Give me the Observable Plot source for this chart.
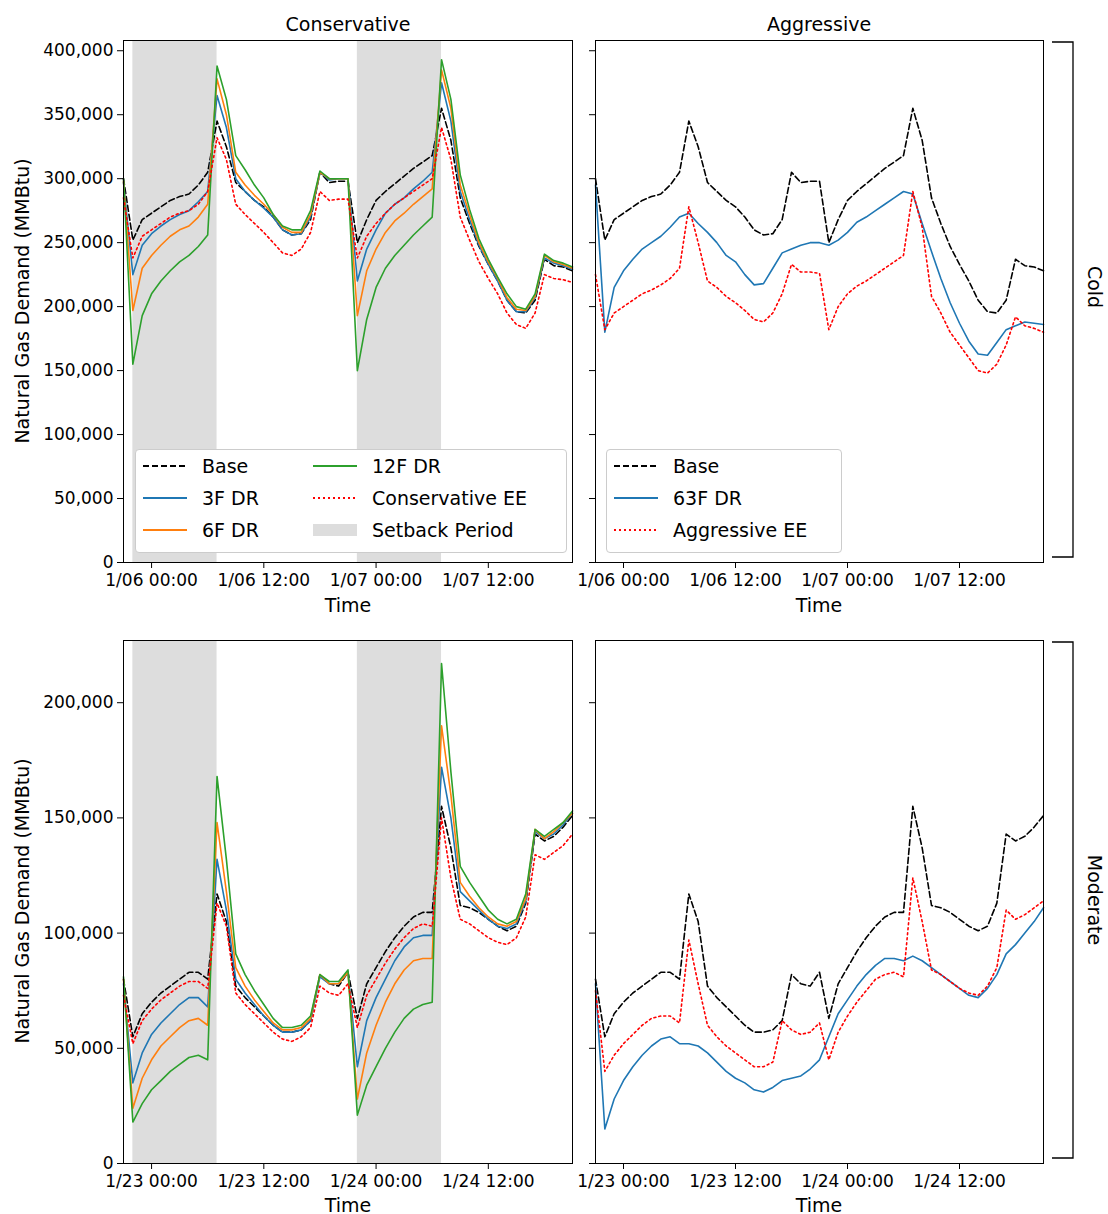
<!DOCTYPE html>
<html><head><meta charset="utf-8">
<script src="https://cdn.jsdelivr.net/npm/d3@7"></script>
<script src="https://cdn.jsdelivr.net/npm/@observablehq/plot@0.6"></script>
<style>
body{margin:0;background:#fff;font-family:"DejaVu Sans",sans-serif;}
#wrap{position:relative;width:1108px;height:1214px;}
.abs{position:absolute;}
.t{position:absolute;font-size:19px;color:#000;white-space:nowrap;}
.leg{position:absolute;background:#fff;border:1px solid #ccc;border-radius:4px;font-size:19px;}
.leg .row{position:absolute;display:flex;align-items:center;gap:14px;}
</style></head><body><div id="wrap"></div>
<script>
// ---------- data (thousand MMBtu), hourly from 21:00 on day before ----------
const coldStart = Date.UTC(2024,0,5,21);
const modStart = Date.UTC(2024,0,22,21);
const coldShade = [[Date.UTC(2024,0,5,22),Date.UTC(2024,0,6,7)],[Date.UTC(2024,0,6,22),Date.UTC(2024,0,7,7)]];
const modShade = [[Date.UTC(2024,0,22,22),Date.UTC(2024,0,23,7)],[Date.UTC(2024,0,23,22),Date.UTC(2024,0,24,7)]];

const coldBase = [300,252,268,273,278,283,286,288,295,305,345,325,297,290,283,278,270,260,256,257,268,305,297,298,298,250,268,283,290,296,302,308,313,318,355,330,285,265,247,233,220,205,196,195,205,237,232,231,228];
const cold3F = [297,225,248,257,263,268,272,275,282,290,365,340,300,290,283,277,270,260,256,257,270,305,299,300,300,220,245,260,273,280,285,292,298,305,375,345,290,268,248,233,220,205,196,196,207,238,234,232,229];
const cold6F = [298,197,230,240,248,255,260,263,270,280,378,350,305,295,287,280,272,262,258,258,272,305,300,300,300,193,228,245,258,267,273,280,286,292,385,355,295,272,250,235,222,207,198,197,208,240,235,233,230];
const cold12F = [300,155,193,210,220,228,235,240,247,256,388,362,318,307,295,285,272,263,260,260,275,306,300,300,300,150,190,215,230,240,248,256,263,270,393,362,303,276,253,237,223,210,200,198,210,241,236,234,231];
const coldConsEE = [285,238,255,260,265,270,273,275,280,290,332,315,280,272,265,258,250,242,240,245,258,290,283,284,284,238,255,265,273,280,285,290,295,300,340,315,270,252,235,222,210,195,186,183,195,225,222,221,219];
const cold63F = [295,180,215,228,237,245,250,255,262,270,273,265,258,250,240,235,225,217,218,230,242,245,248,250,250,248,252,258,266,270,275,280,285,290,288,265,243,222,203,187,173,163,162,172,182,185,188,187,186];
const coldAggEE = [225,182,195,200,205,210,213,217,222,230,278,250,220,215,208,203,197,190,188,195,210,233,227,227,226,182,200,210,216,220,225,230,235,240,290,262,208,195,180,170,160,150,148,155,170,192,185,183,180];

const modBase = [80,55,65,70,74,77,80,83,83,80,117,105,77,72,68,64,60,57,57,58,62,82,78,77,83,63,78,85,92,98,103,107,109,109,155,137,112,111,109,106,103,101,103,113,143,140,142,146,151];
const mod3F = [78,35,48,56,61,65,69,72,72,68,132,110,80,74,69,64,60,57,57,58,62,81,78,78,83,42,62,72,80,88,94,98,99,99,172,150,118,114,110,106,103,102,104,114,144,141,143,147,152];
const mod6F = [80,24,37,45,51,55,59,62,63,60,148,118,85,77,71,66,61,58,58,59,63,82,78,78,83,28,48,60,70,78,84,88,89,89,190,160,122,116,111,107,104,103,105,115,145,141,144,148,152];
const mod12F = [81,18,26,32,36,40,43,46,47,45,168,132,91,82,75,69,63,59,59,60,64,82,79,79,84,21,34,42,50,57,63,67,69,70,217,170,129,122,116,110,106,104,106,117,145,142,145,148,153];
const modConsEE = [73,52,62,67,71,74,77,79,79,76,113,103,74,69,65,61,57,54,53,55,59,77,74,73,78,59,73,80,87,93,98,102,104,103,150,124,106,104,101,98,96,95,98,107,134,132,135,138,143];
const mod63F = [78,15,28,36,42,47,51,54,55,52,52,51,48,44,40,37,35,32,31,33,36,37,38,41,45,55,65,71,77,82,86,89,89,88,90,88,85,82,79,76,73,72,76,82,91,95,100,105,111];
const modAggEE = [75,40,47,52,56,60,63,64,64,61,97,78,60,55,51,48,45,42,42,44,62,58,56,57,61,45,57,64,70,75,80,82,83,81,124,105,84,82,79,76,74,73,77,85,110,106,108,111,114];

const coldTicks = [0,50,100,150,200,250,300,350,400];
const modTicks = [0,50,100,150,200];

const styles = {
  base:{stroke:"black",strokeDasharray:"6,3"},
  f3:{stroke:"#1f77b4"}, f6:{stroke:"#ff7f0e"}, f12:{stroke:"#2ca02c"},
  ee:{stroke:"red",strokeDasharray:"2,3"}
};

const wrap = document.getElementById("wrap");
function rows(arr,start){return arr.map((v,i)=>({t:new Date(start+i*3600e3),v:v*1000}));}

function panel({left,top,width,height,ml,mr,mt,mb,series,yMax,yTicks,labels,shade,start}){
  const marks=[];
  if(shade) marks.push(Plot.rect(shade.map(([a,b])=>({a:new Date(a),b:new Date(b)})),{x1:"a",x2:"b",y1:0,y2:yMax,fill:"#dddddd"}));
  for(const [arr,st] of series) marks.push(Plot.line(rows(arr,start),{x:"t",y:"v",strokeWidth:1.6,...st}));
  marks.push(Plot.axisY({ticks:yTicks.map(d=>d*1000),tickSize:6,tickPadding:4,tickFormat:labels?d3.format(","):()=>"",label:null,fontSize:17}));
  marks.push(Plot.axisX({ticks:d3.utcHour.every(12),tickSize:6,tickPadding:5,tickFormat:d3.utcFormat("%-m/%d %H:%M"),label:null,fontSize:17}));
  marks.push(Plot.frame({stroke:"black"}));
  const p=Plot.plot({width,height,marginLeft:ml,marginRight:mr,marginTop:mt,marginBottom:mb,
    style:{fontFamily:"DejaVu Sans",fontSize:"17px",color:"black",background:"transparent",overflow:"visible"},
    x:{type:"utc",domain:[new Date(start),new Date(start+48*3600e3)]},
    y:{domain:[0,yMax]},marks});
  p.classList.add("abs"); p.style.left=left+"px"; p.style.top=top+"px";
  wrap.appendChild(p);
}
const leftSeriesCold=[[coldBase,styles.base],[cold3F,styles.f3],[cold6F,styles.f6],[cold12F,styles.f12],[coldConsEE,styles.ee]];
const rightSeriesCold=[[coldBase,styles.base],[cold63F,styles.f3],[coldAggEE,styles.ee]];
const leftSeriesMod=[[modBase,styles.base],[mod3F,styles.f3],[mod6F,styles.f6],[mod12F,styles.f12],[modConsEE,styles.ee]];
const rightSeriesMod=[[modBase,styles.base],[mod63F,styles.f3],[modAggEE,styles.ee]];

panel({left:0,top:0,width:580,height:600,ml:123,mr:8,mt:40,mb:38,series:leftSeriesCold,yMax:408000,yTicks:coldTicks,labels:true,shade:coldShade,start:coldStart});
panel({left:580,top:0,width:480,height:600,ml:15,mr:17,mt:40,mb:38,series:rightSeriesCold,yMax:408000,yTicks:coldTicks,labels:false,start:coldStart});
panel({left:0,top:600,width:580,height:601,ml:123,mr:8,mt:40,mb:38,series:leftSeriesMod,yMax:227000,yTicks:modTicks,labels:true,shade:modShade,start:modStart});
panel({left:580,top:600,width:480,height:601,ml:15,mr:17,mt:40,mb:38,series:rightSeriesMod,yMax:227000,yTicks:modTicks,labels:false,start:modStart});

function text(s,x,y,opts={}){const d=document.createElement("div");d.className="t";d.textContent=s;
  d.style.left=x+"px";d.style.top=y+"px";d.style.transform=(opts.rot?`translate(-50%,-50%) rotate(${opts.rot}deg)`:"translate(-50%,-50%)");wrap.appendChild(d);}
text("Conservative",348,24); text("Aggressive",819,24);
text("Time",348,605); text("Time",819,605); text("Time",348,1205); text("Time",819,1205);
text("Natural Gas Demand (MMBtu)",22,301,{rot:-90}); text("Natural Gas Demand (MMBtu)",22,901,{rot:-90});
text("Cold",1095,287,{rot:90}); text("Moderate",1095,900,{rot:90});
const br=d3.create("svg").attr("width",1108).attr("height",1214).attr("class","abs").style("left","0px").style("top","0px").style("pointer-events","none");
for(const [y1,y2] of [[42,557],[642,1158]]){
  br.append("path").attr("d",`M1052,${y1}H1073V${y2}H1052`).attr("fill","none").attr("stroke","black").attr("stroke-width",1.3);
}
wrap.appendChild(br.node());

function swatch(st,fill){const s=d3.create("svg").attr("width",46).attr("height",16);
  if(fill) s.append("rect").attr("x",1).attr("y",2).attr("width",44).attr("height",12).attr("fill","#dddddd");
  else s.append("line").attr("x1",1).attr("x2",45).attr("y1",8).attr("y2",8).attr("stroke",st.stroke).attr("stroke-width",1.8).attr("stroke-dasharray",st.strokeDasharray||null);
  return s.node();}
function legend(x,y,w,h,items){const b=document.createElement("div");b.className="leg";
  Object.assign(b.style,{left:x+"px",top:y+"px",width:w+"px",height:h+"px"});
  for(const it of items){const r=document.createElement("div");r.className="row";r.style.left=it.x+"px";r.style.top=it.y+"px";
    r.appendChild(swatch(it.st,it.fill));const s=document.createElement("span");s.textContent=it.label;r.appendChild(s);b.appendChild(r);}
  wrap.appendChild(b);}
legend(135,449,430,102,[
  {x:6,y:5,st:styles.base,label:"Base"},{x:6,y:37,st:styles.f3,label:"3F DR"},{x:6,y:69,st:styles.f6,label:"6F DR"},
  {x:176,y:5,st:styles.f12,label:"12F DR"},{x:176,y:37,st:styles.ee,label:"Conservative EE"},{x:176,y:69,fill:true,label:"Setback Period"}]);
legend(606,449,234,102,[
  {x:6,y:5,st:styles.base,label:"Base"},{x:6,y:37,st:styles.f3,label:"63F DR"},{x:6,y:69,st:styles.ee,label:"Aggressive EE"}]);
</script></body></html>
